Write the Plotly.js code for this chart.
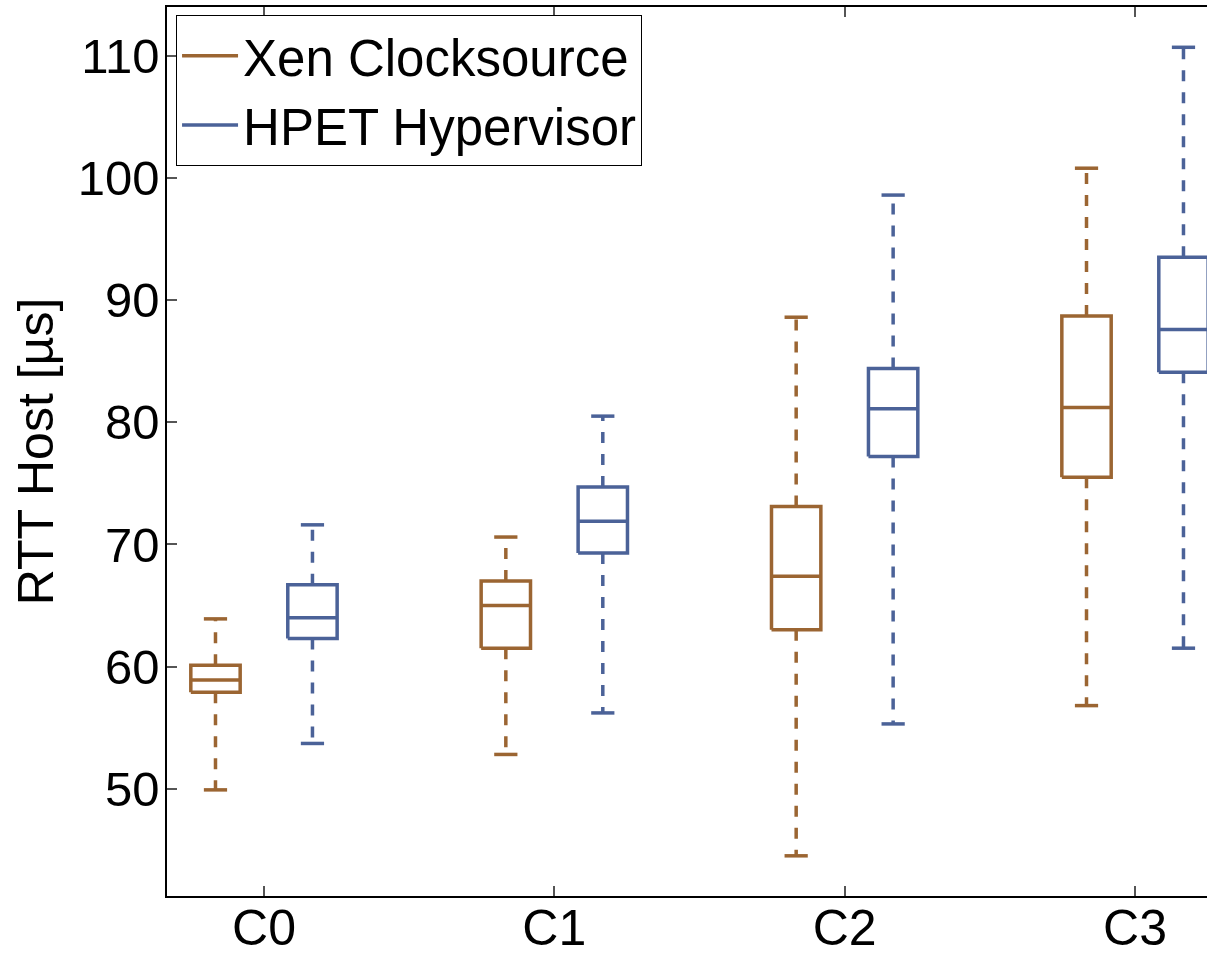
<!DOCTYPE html>
<html>
<head>
<meta charset="utf-8">
<script src="https://cdn.plot.ly/plotly-3.0.1.min.js"></script>
<style>
  html, body { margin: 0; padding: 0; background: #fff; }
  #chart { width: 1207px; height: 956px; }
</style>
</head>
<body>
<div id="chart"></div>
<script>
// ---- Data ----
const categories = ['C0', 'C1', 'C2', 'C3'];
const seriesNames = ['Xen Clocksource', 'HPET Hypervisor'];

const xenLower  = [49.9, 52.8, 44.5, 56.8];
const xenQ1     = [57.9, 61.5, 63.0, 75.5];
const xenMedian = [58.9, 65.0, 67.4, 81.2];
const xenQ3     = [60.1, 67.0, 73.1, 88.7];
const xenUpper  = [63.9, 70.6, 88.6, 100.8];

const hpetLower  = [53.7, 56.2, 55.3, 61.5];
const hpetQ1     = [62.3, 69.3, 77.2, 84.1];
const hpetMedian = [64.0, 71.9, 81.1, 87.6];
const hpetQ3     = [66.7, 74.7, 84.4, 93.5];
const hpetUpper  = [71.6, 80.5, 98.6, 110.7];

const yTickVals = [50, 60, 70, 80, 90, 100, 110];

// ---- Styling ----
const colors = ['#9b6532', '#4b6298'];
const groupOffset = 0.167;   // box centre offset from category position
const boxHalf = 0.085;       // half box width (x units)
const capHalf = 0.04;        // half whisker-cap width
const FONT = '"Liberation Sans", Arial, Helvetica, sans-serif';

function buildTraces(name, color, side, lower, q1, med, q3, upper) {
  const bx = [], by = [], wx = [], wy = [];
  categories.forEach((c, i) => {
    const xc = i + side * groupOffset;
    const l = xc - boxHalf, r = xc + boxHalf;
    // box rectangle
    bx.push(l, r, r, l, l, null); by.push(q1[i], q1[i], q3[i], q3[i], q1[i], null);
    // median
    bx.push(l, r, null); by.push(med[i], med[i], null);
    // caps
    bx.push(xc - capHalf, xc + capHalf, null); by.push(upper[i], upper[i], null);
    bx.push(xc - capHalf, xc + capHalf, null); by.push(lower[i], lower[i], null);
    // whiskers (drawn outward from the box)
    wx.push(xc, xc, null); wy.push(q3[i], upper[i], null);
    wx.push(xc, xc, null); wy.push(q1[i], lower[i], null);
  });
  return [
    {
      type: 'scatter', mode: 'lines', name: name, x: bx, y: by,
      line: { color: color, width: 3.5 }, connectgaps: false,
      hoverinfo: 'y', legendgroup: name
    },
    {
      type: 'scatter', mode: 'lines', name: name + ' whiskers', x: wx, y: wy,
      line: { color: color, width: 3.5, dash: '11px,11px' }, connectgaps: false,
      hoverinfo: 'y', showlegend: false, legendgroup: name
    }
  ];
}

const data = [
  ...buildTraces(seriesNames[0], colors[0], -1, xenLower, xenQ1, xenMedian, xenQ3, xenUpper),
  ...buildTraces(seriesNames[1], colors[1], 1, hpetLower, hpetQ1, hpetMedian, hpetQ3, hpetUpper)
];

const layout = {
  width: 1207, height: 956,
  margin: { l: 167, r: 0, t: 7, b: 60 },
  paper_bgcolor: '#fff', plot_bgcolor: '#fff',
  font: { family: FONT, color: '#000', size: 48 },
  showlegend: true,
  legend: {
    x: 0.0087, y: 0.991, xanchor: 'left', yanchor: 'top',
    bgcolor: '#fff', bordercolor: '#000', borderwidth: 1,
    font: { family: FONT, size: 51, color: '#000' },
    tracegroupgap: 0, itemwidth: 56
  },
  xaxis: {
    range: [-0.334, 3.248],
    tickmode: 'array', tickvals: categories.map((c, i) => i), ticktext: categories,
    showline: true, linecolor: '#000', linewidth: 1.5, mirror: 'ticks',
    ticks: 'inside', ticklen: 10, tickwidth: 1.5, tickcolor: '#555',
    showgrid: false, zeroline: false,
    tickfont: { family: FONT, size: 50, color: '#000' },
    ticklabelstandoff: -13
  },
  yaxis: {
    range: [41.21, 114.0],
    tickmode: 'array', tickvals: yTickVals,
    showline: true, linecolor: '#000', linewidth: 1.5, mirror: false,
    ticks: 'inside', ticklen: 10, tickwidth: 1.5, tickcolor: '#555',
    showgrid: false, zeroline: false,
    tickfont: { family: FONT, size: 49, color: '#000' },
    ticklabelstandoff: -4,
    title: { text: 'RTT Host [µs]', font: { family: FONT, size: 50, color: '#000' }, standoff: 8 }
  }
};

Plotly.newPlot('chart', data, layout, { displayModeBar: false });
</script>
</body>
</html>
